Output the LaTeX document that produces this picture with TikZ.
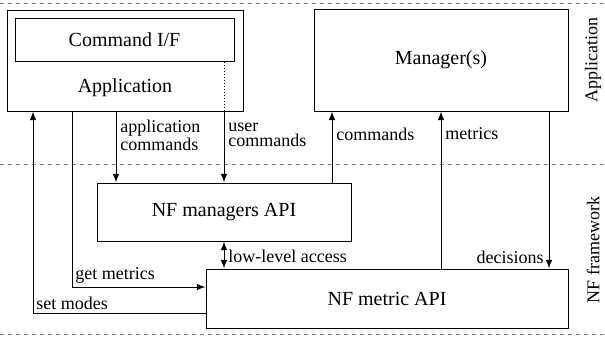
\documentclass[tikz,border=0pt]{standalone}
\usepackage{fontspec}
\setmainfont{Liberation Serif}
\tikzset{
	blk/.style={draw, line width=0.5pt, inner sep=0pt},
	lbl/.style={font=\fontsize{9}{7.2}\selectfont, inner sep=1.5pt, align=left},
	sep/.style={gray, line width=0.5pt, dash pattern=on 2pt off 2pt},
	con/.style={line width=0.5pt, ->, >=latex},
}
\begin{document}
\begin{tikzpicture}[x=0.5pt, y=-0.5pt, font=\fontsize{10}{12}\selectfont]
	\useasboundingbox (0,0) rectangle (605,339);
	% layer separators
	\draw[sep] (0,3) -- (605,3);
	\draw[sep] (0,164) -- (605,164);
	\draw[sep] (0,334) -- (605,334);
	\node[rotate=90, font=\fontsize{9}{10}\selectfont] (lapp) at (593,60) {Application};
	\node[rotate=90, font=\fontsize{9}{10}\selectfont] (lnf) at (593,250) {NF framework};

	% boxes
	\node[blk, minimum width=118pt, minimum height=50.5pt] (app) at (125,60.5) {};
	\node[blk, minimum width=109.5pt, minimum height=21.5pt] (cmdif) at (124.5,39.5) {Command I/F};
	\node (apptxt) at (125,88) {Application};
	\node[blk, minimum width=127pt, minimum height=51pt] (mgr) at (441,60) {Manager(s)};
	\node[blk, minimum width=127pt, minimum height=29pt] (mgrapi) at (224,212) {NF managers API};
	\node[blk, minimum width=181pt, minimum height=29.5pt] (metricapi) at (387,298.5) {NF metric API};

	% x positions of the vertical lines, y positions of the horizontal ones
	\coordinate (xsm) at (33,0);
	\coordinate (xgm) at (72,0);
	\coordinate (xac) at (116,0);
	\coordinate (xuc) at (224,0);
	\coordinate (xcm) at (332,0);
	\coordinate (xme) at (441,0);
	\coordinate (xde) at (549,0);
	\coordinate (ygm) at (0,287);
	\coordinate (ysm) at (0,313);

	% connectors
	\draw[line width=0.5pt, densely dotted] (xuc |- cmdif.south) -- (xuc |- app.south);
	\draw[con] (xuc |- app.south) -- (xuc |- mgrapi.north);
	\draw[con] (xac |- app.south) -- (xac |- mgrapi.north);
	\draw[con] (xgm |- app.south) |- (metricapi.west |- ygm);
	\draw[con] (metricapi.west |- ysm) -| (xsm |- app.south);
	\draw[con, <->] (xuc |- mgrapi.south) -- (xuc |- metricapi.north);
	\draw[con] (xcm |- mgrapi.north) -- (xcm |- mgr.south);
	\draw[con] (xme |- metricapi.north) -- (xme |- mgr.south);
	\draw[con] (xde |- mgr.south) -- (xde |- metricapi.north);

	% connector labels
	\node[lbl, anchor=west] (tac) at (117,135) {application\\commands};
	\node[lbl, anchor=west] (tuc) at (225,135) {user\\commands};
	\node[lbl, anchor=west] (tcm) at (333,134) {commands};
	\node[lbl, anchor=west] (tme) at (442,134) {metrics};
	\node[lbl, anchor=east] (tde) at (547,257) {decisions};
	\node[lbl, anchor=west] (tll) at (225,256) {low-level access};
	\node[lbl, anchor=south west] (tgm) at (xgm |- ygm) {get metrics};
	\node[lbl, anchor=south west] (tsm) at (xsm |- ysm) {set modes};
\end{tikzpicture}
\end{document}
